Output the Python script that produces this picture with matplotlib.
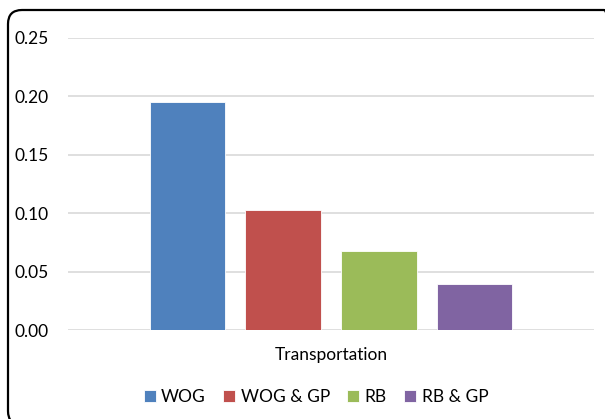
import matplotlib.pyplot as plt
from matplotlib.patches import FancyBboxPatch
import numpy as np

# Data
category = "Transportation"
series = ["WOG", "WOG & GP", "RB", "RB & GP"]
values = [0.195, 0.103, 0.068, 0.039]
colors = ["#4F81BD", "#C0504D", "#9BBB59", "#8064A2"]
yticks = [0.00, 0.05, 0.10, 0.15, 0.20, 0.25]

plt.rcParams['font.family'] = ['Lato', 'DejaVu Sans']

W, H = 605, 419
fig = plt.figure(figsize=(W / 100, H / 100), dpi=100)
ax = fig.add_axes([68 / W, 1 - 330 / H, 526 / W, 292 / H])

# bars grouped around one category
bar_w = 0.1426
step = 0.1825
offsets = (np.arange(len(series)) - (len(series) - 1) / 2) * step
for off, val, col, name in zip(offsets, values, colors, series):
    ax.bar(off, val, width=bar_w, color=col, label=name,
           edgecolor="white", linewidth=0.6, zorder=3)

ax.set_xlim(-0.5, 0.5)
ax.set_ylim(0, 0.25)
ax.set_yticks(yticks)
ax.set_yticklabels([f"{t:.2f}" for t in yticks], fontsize=12.5)
ax.set_xticks([0])
ax.set_xticklabels([category], fontsize=12.5)
ax.tick_params(axis="both", length=0, pad=14, colors="black")
ax.tick_params(axis="x", pad=12)
ax.grid(axis="y", color="#D9D9D9", linewidth=1.2, zorder=0)
for s in ax.spines.values():
    s.set_visible(False)

handles, labels = ax.get_legend_handles_labels()
fig.legend(handles, labels, loc="center", bbox_to_anchor=(316 / W, 1 - 397 / H),
           ncol=4, frameon=False, fontsize=12.5, handlelength=0.7,
           handleheight=0.7, handletextpad=0.3, columnspacing=1.0)

# rounded chart frame, running past the right and bottom edges
frame = FancyBboxPatch((0.08, -0.06), 6.10, 4.15,
                       boxstyle="round,pad=0,rounding_size=0.14",
                       transform=fig.dpi_scale_trans, fill=False,
                       edgecolor="black", linewidth=1.6)
fig.patches.append(frame)

fig.savefig("out.png", dpi=100)
